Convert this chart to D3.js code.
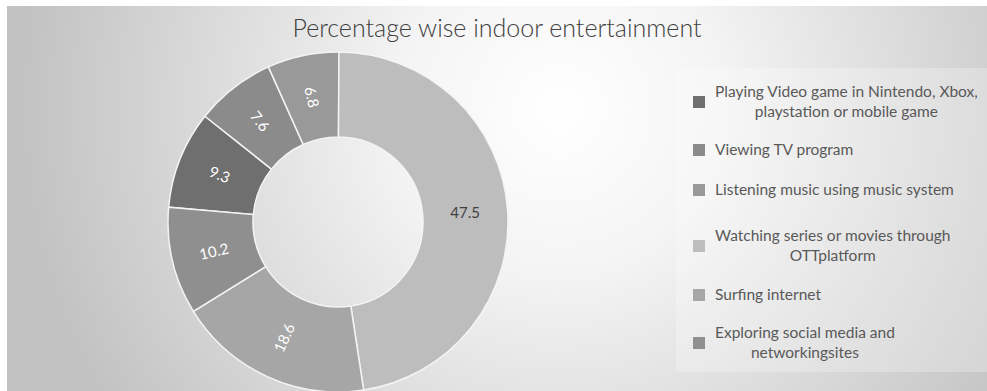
<!DOCTYPE html>
<html>
<head>
<meta charset="utf-8">
<script src="https://cdn.jsdelivr.net/npm/d3@7"></script>
<style>
  body { margin: 0; background: #fff; }
  svg { display: block; }
  text { font-family: Lato, "Open Sans", sans-serif; }
</style>
</head>
<body>
<svg id="chart" width="987" height="391"></svg>
<script>
// data, in legend order
var categories = [
  "Playing Video game in Nintendo, Xbox,\nplaystation or mobile game",
  "Viewing TV program",
  "Listening music using music system",
  "Watching series or movies through\nOTTplatform",
  "Surfing internet",
  "Exploring social media and\nnetworkingsites"
];
var values = [9.3, 7.6, 6.8, 47.5, 18.6, 10.2];
var colors = ["#6f6f6f", "#8b8b8b", "#999999", "#bdbdbd", "#a6a6a6", "#8f8f8f"];
var firstSliceAngle = 275; // degrees, like excel's setting

var svg = d3.select("svg#chart"),
    width = +svg.attr("width"),
    height = +svg.attr("height");

//background gradient
var defs = svg.append("defs");
var bg = defs.append("radialGradient")
    .attr("id", "bg")
    .attr("gradientUnits", "userSpaceOnUse")
    .attr("cx", 560).attr("cy", 110).attr("r", 540);
bg.append("stop").attr("offset", "0%").attr("stop-color", "#ffffff");
bg.append("stop").attr("offset", "30%").attr("stop-color", "#f4f4f4");
bg.append("stop").attr("offset", "100%").attr("stop-color", "#c2c2c2");

svg.append("rect")
    .attr("x", 7).attr("y", 6)
    .attr("width", width - 7).attr("height", height - 6)
    .attr("fill", "url(#bg)");

// title
svg.append("text")
    .attr("x", 497)
    .attr("y", 37)
    .attr("text-anchor", "middle")
    .style("font-size", "25px")
    .style("font-weight", 300)
    .style("fill", "#404040")
    .text("Percentage wise indoor entertainment");

// doughnut
var cx = 338, cy = 222, rOuter = 170, rInner = 85;
var rad = function(deg) { return deg * Math.PI / 180; };

var pie = d3.pie()
    .sort(null)
    .startAngle(rad(firstSliceAngle))
    .endAngle(rad(firstSliceAngle + 360));

var arc = d3.arc().innerRadius(rInner).outerRadius(rOuter);
var labelArc = d3.arc().innerRadius((rInner + rOuter) / 2).outerRadius((rInner + rOuter) / 2);

var g = svg.append("g").attr("transform", "translate(" + cx + "," + cy + ")");
var arcs = pie(values);

g.selectAll("path")
    .data(arcs)
    .enter().append("path")
    .attr("d", arc)
    .attr("fill", function(d, i) { return colors[i]; })
    .attr("stroke", "#f4f4f4")
    .attr("stroke-width", 1.5);

// labels rotated along the radius, flipped to stay readable
g.selectAll("text.lbl")
    .data(arcs)
    .enter().append("text")
    .attr("class", "lbl")
    .attr("transform", function(d) {
        var c = labelArc.centroid(d);
        var mid = ((d.startAngle + d.endAngle) / 2) * 180 / Math.PI;
        var rot = ((mid + 90) % 360 + 360) % 360;
        if (rot > 90 && rot < 270) rot -= 180;
        if (rot >= 270) rot -= 360;
        if (Math.abs(rot) < 6) rot = 0;
        return "translate(" + c[0] + "," + c[1] + ") rotate(" + rot + ")";
    })
    .attr("text-anchor", "middle")
    .attr("dy", "0.35em")
    .style("font-size", "15px")
    .style("fill", function(d, i) { return values[i] > 40 ? "#404040" : "#ffffff"; })
    .text(function(d) { return d.data; });

// legend panel
svg.append("rect")
    .attr("x", 676).attr("y", 68)
    .attr("width", width - 676).attr("height", 304)
    .attr("fill", "#ffffff")
    .attr("fill-opacity", 0.25);

var legendY = [102, 150, 190, 246, 295, 343];
var legend = svg.append("g").attr("class", "legend");

categories.forEach(function(name, i) {
    var item = legend.append("g").attr("transform", "translate(0," + legendY[i] + ")");
    item.append("rect")
        .attr("x", 693).attr("y", -6)
        .attr("width", 12).attr("height", 12)
        .attr("fill", colors[i]);
    var lines = name.split("\n");
    var txt = item.append("text")
        .style("font-size", "15.5px")
        .style("fill", "#595959");
    var spans = txt.selectAll("tspan")
        .data(lines)
        .enter().append("tspan")
        .attr("y", function(d, j) { return (j - (lines.length - 1) / 2) * 20; })
        .attr("dy", "0.35em")
        .text(function(d) { return d; });
    if (lines.length > 1) {
        // centre the lines on the widest one
        var maxW = d3.max(spans.nodes(), function(n) { return n.getComputedTextLength(); });
        txt.attr("text-anchor", "middle");
        spans.attr("x", 715 + maxW / 2);
    } else {
        spans.attr("x", 715);
    }
});
</script>
</body>
</html>
